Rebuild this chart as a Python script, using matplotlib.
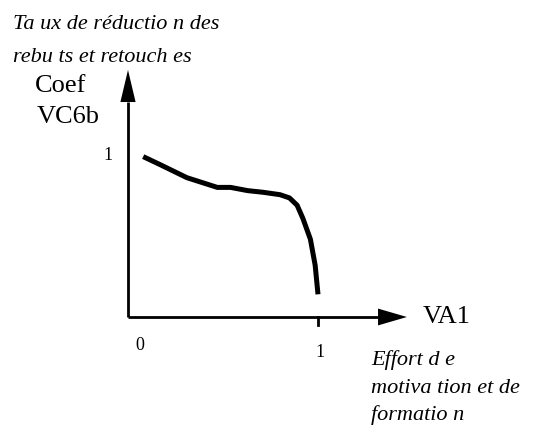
import matplotlib
matplotlib.use("Agg")
import matplotlib.pyplot as plt
from matplotlib.patches import Polygon

# curve Coef VC6b = f(VA1)
va1 = [0.08, 0.17, 0.31, 0.47, 0.54, 0.63, 0.71, 0.80, 0.85, 0.89, 0.92, 0.96, 0.985, 1.0]
coef_vc6b = [0.99, 0.94, 0.86, 0.80, 0.80, 0.78, 0.77, 0.755, 0.735, 0.69, 0.61, 0.48, 0.32, 0.14]

x_ticks = [0, 1]
x_tick_labels = ["0", "1"]
y_ticks = [1]
y_tick_labels = ["1"]

W, H = 543, 432
fig = plt.figure(figsize=(W / 100, H / 100), dpi=100)
ax = fig.add_axes([0, 0, 1, 1])
ax.set_xlim(-128 / 190, (W - 128) / 190)
ax.set_ylim(-(H - 317) / 162, 317 / 162)
ax.axis("off")

serif = "Liberation Serif"


def fpos(px, py):
    return px / W, 1 - py / H


# axes with arrow heads
ax.plot([0, 0], [0, 1.33], color="black", lw=2, solid_capstyle="butt")
ax.plot([0, 1.32], [0, 0], color="black", lw=2, solid_capstyle="butt")
ax.add_patch(Polygon([[-0.040, 1.327], [0.040, 1.327], [0.0, 1.525]],
                     closed=True, color="black", lw=0))
ax.add_patch(Polygon([[1.316, 0.052], [1.316, -0.052], [1.468, 0.0]],
                     closed=True, color="black", lw=0))
ax.plot([1, 1], [0, -0.05], color="black", lw=2)

ax.plot(va1, coef_vc6b, color="black", lw=3.6, solid_capstyle="butt",
        solid_joinstyle="round")

# tick labels
for xv, lab in zip(x_ticks, x_tick_labels):
    px = 128 + 190 * xv + (12 if xv == 0 else 2)
    fig.text(*fpos(px, 350 if xv == 0 else 357), lab, family=serif,
             fontsize=13, ha="center", va="baseline")
for yv, lab in zip(y_ticks, y_tick_labels):
    fig.text(*fpos(108, 317 - 162 * yv + 5), lab, family=serif,
             fontsize=13, ha="center", va="baseline")

# axis titles
it = dict(family=serif, style="italic", fontsize=16, va="baseline")
up = dict(family=serif, fontsize=19, va="baseline")
fig.text(*fpos(13, 29), "Ta ux de réductio n des", **it)
fig.text(*fpos(13, 62), "rebu ts et retouch es", **it)
fig.text(*fpos(35, 92), "Coef", **up)
fig.text(*fpos(37, 123), "VC6b", **up)
fig.text(*fpos(423, 323), "VA1", **up)
fig.text(*fpos(371, 365), "Effort d e", **it)
fig.text(*fpos(371, 393), "motiva tion et de", **it)
fig.text(*fpos(371, 420), "formatio n", **it)

fig.savefig("out.png", dpi=100, facecolor="white")
